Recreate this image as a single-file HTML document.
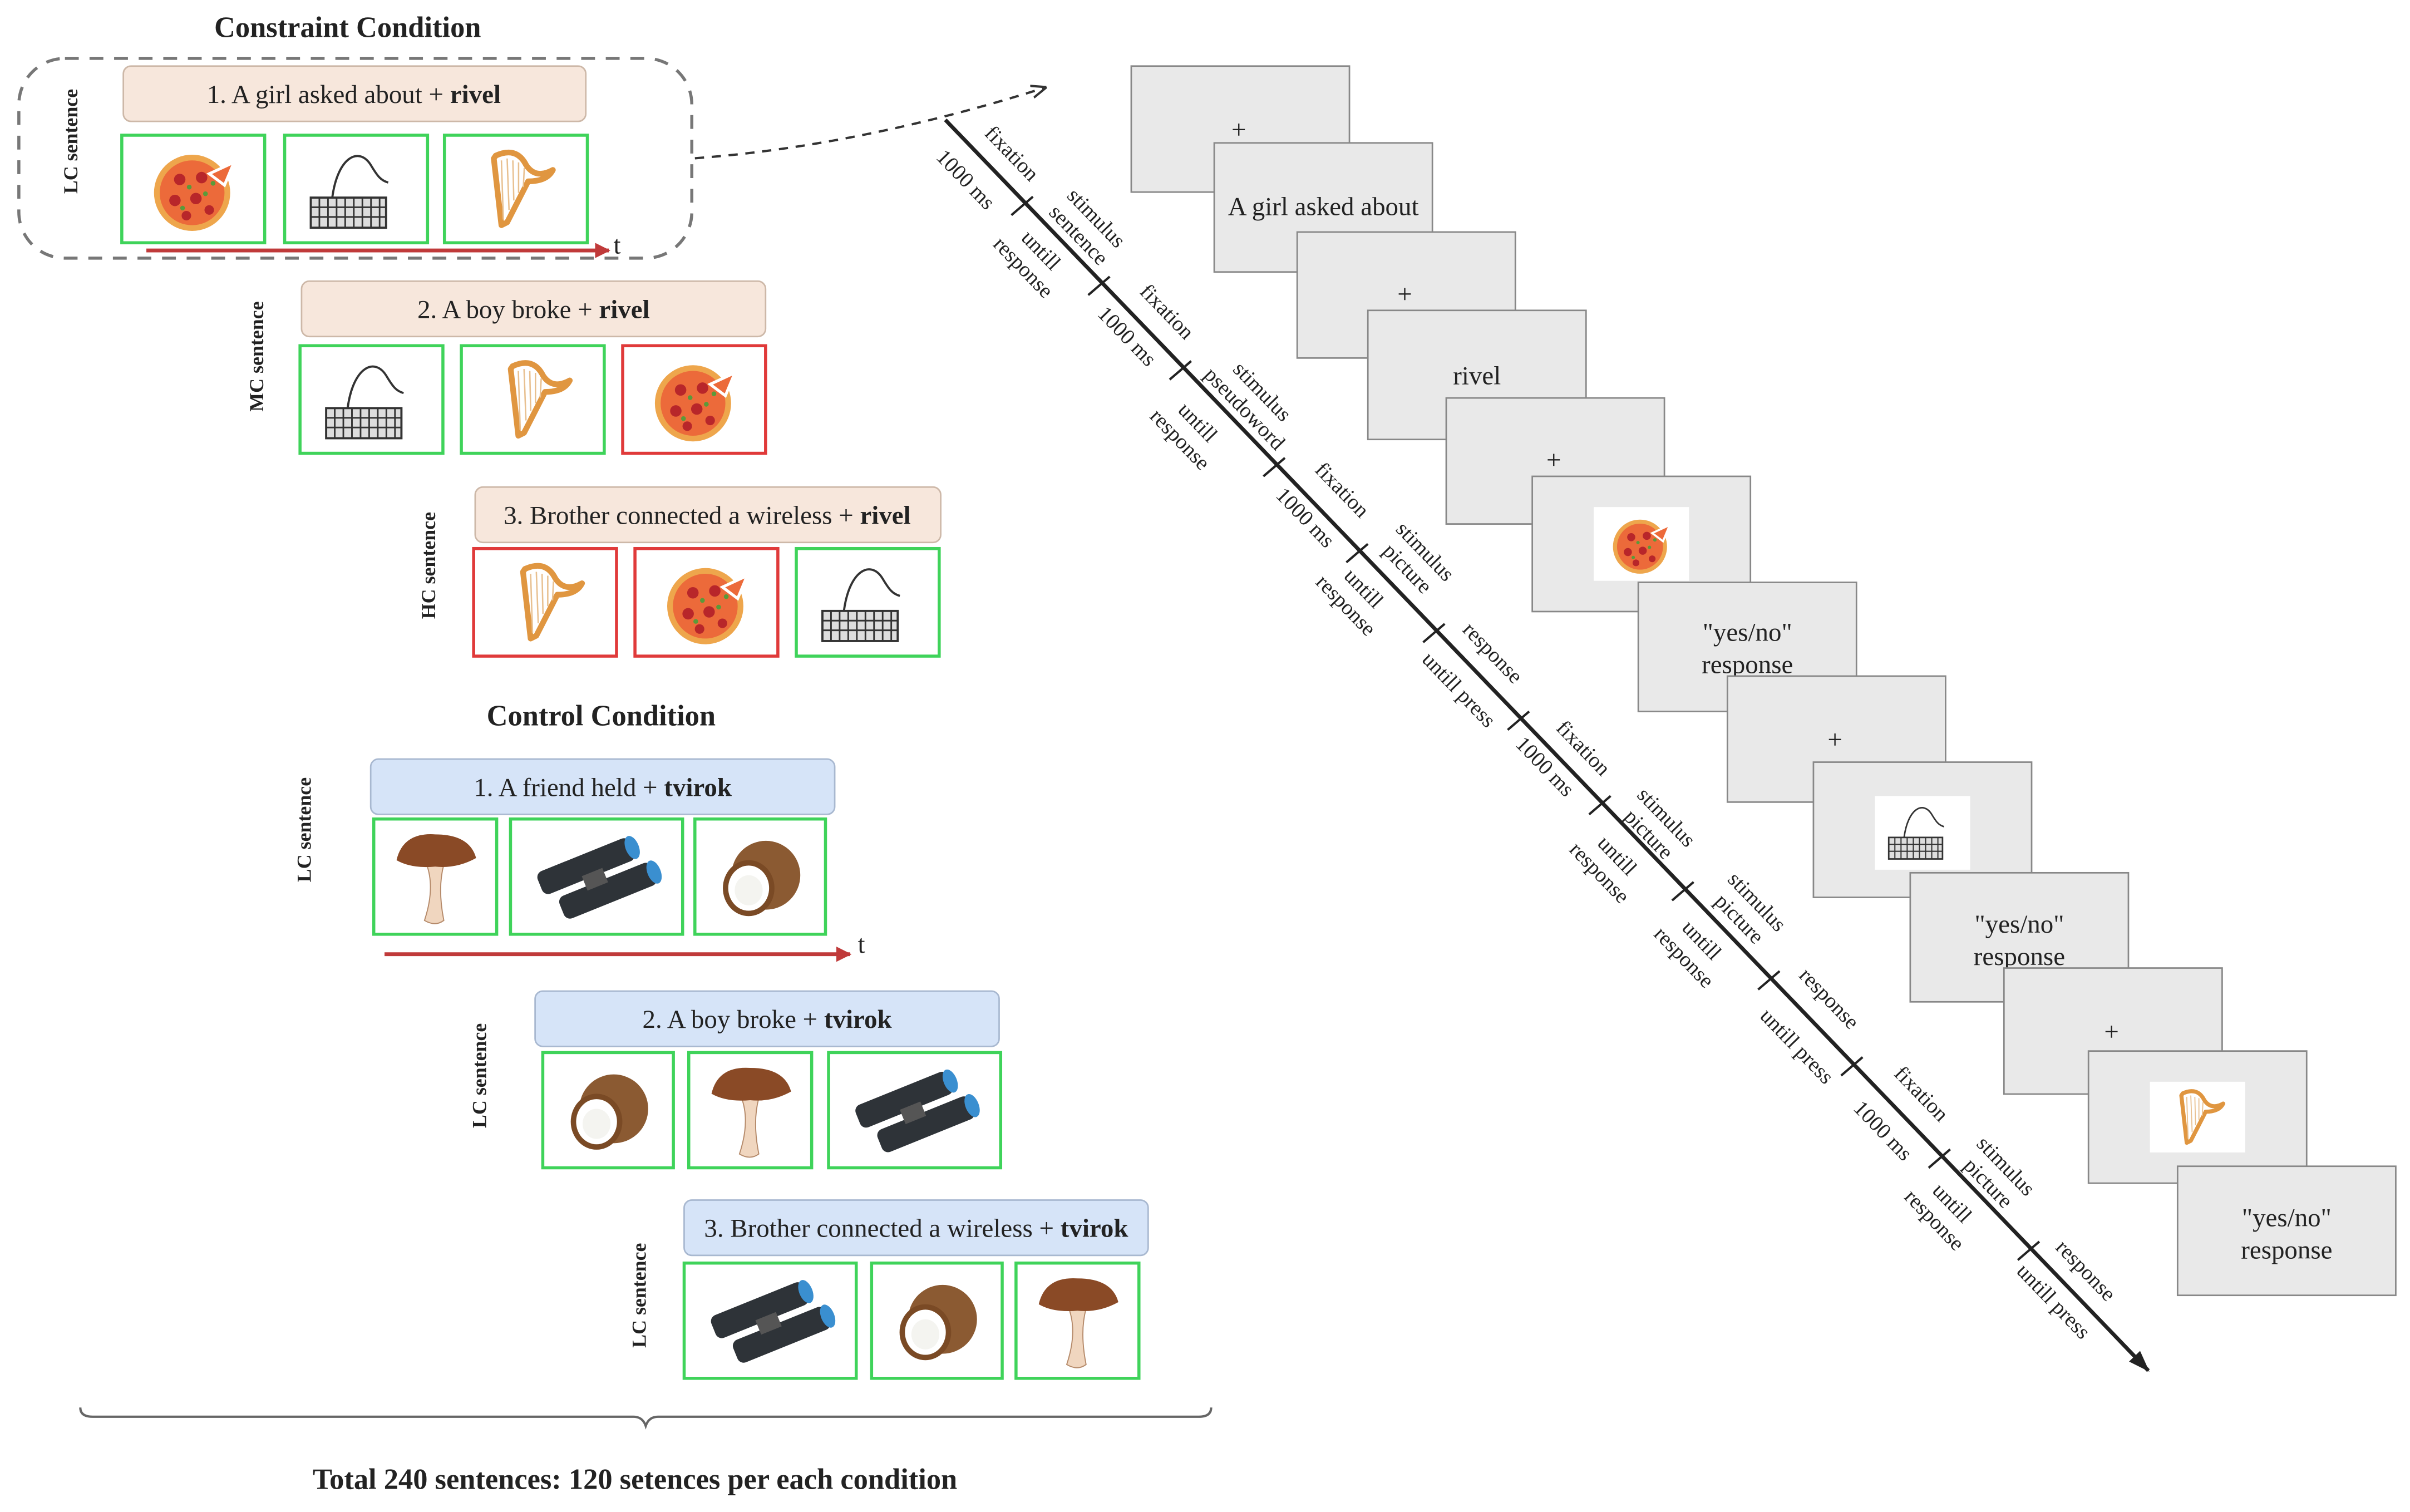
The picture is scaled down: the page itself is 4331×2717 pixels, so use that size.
<!DOCTYPE html>
<html><head><meta charset="utf-8"><style>
html,body{margin:0;padding:0;background:#fff;}
svg{display:block;}
svg text{font-family:"Liberation Serif","Times New Roman",Times,"DejaVu Serif",serif;fill:#222;}
</style></head><body>
<svg width="4331" height="2717" viewBox="0 0 1568 984" xmlns="http://www.w3.org/2000/svg" font-family="'Liberation Serif', 'Times New Roman', Times, 'DejaVu Serif', serif">
<defs>
<symbol id="pizza" viewBox="0 0 100 100">
<circle cx="48" cy="54" r="40" fill="#eea64c"/><circle cx="48" cy="54" r="34" fill="#ec6a3a"/>
<g fill="#b8262a"><circle cx="35" cy="40" r="6"/><circle cx="58" cy="38" r="6"/><circle cx="30" cy="62" r="6"/><circle cx="52" cy="60" r="6"/><circle cx="66" cy="72" r="5"/><circle cx="42" cy="78" r="5"/></g>
<g fill="#5a9a3a"><circle cx="45" cy="48" r="2.5"/><circle cx="62" cy="55" r="2.5"/><circle cx="38" cy="70" r="2.5"/><circle cx="70" cy="44" r="2.5"/></g>
<path d="M66 34 L92 22 L82 46 Z" fill="#ec6a3a" stroke="#fff" stroke-width="3"/>
</symbol>
<symbol id="kbd" viewBox="0 0 100 100">
<path d="M30 58 C35 20 55 10 66 28 C72 38 75 42 82 44" fill="none" stroke="#333" stroke-width="2"/>
<rect x="10" y="58" width="70" height="28" fill="#ddd" stroke="#333" stroke-width="2"/>
<g stroke="#333" stroke-width="1.5"><path d="M10 67 H80 M10 76 H80"/><path d="M18 58V86 M26 58V86 M34 58V86 M42 58V86 M50 58V86 M58 58V86 M66 58V86 M74 58V86"/></g>
</symbol>
<symbol id="harp" viewBox="0 0 100 100">
<path d="M28 15 Q50 5 60 25 Q70 40 88 30 Q82 42 62 42 L40 85 L34 88 L26 18 Z" fill="none" stroke="#e09640" stroke-width="6" stroke-linejoin="round"/>
<g stroke="#e8c090" stroke-width="1.5"><path d="M34 20 L36 82 M40 18 L42 72 M46 20 L47 62 M52 22 L52 54 M58 28 L57 48"/></g>
</symbol>
<symbol id="mush" viewBox="0 0 100 100">
<path d="M42 38 Q50 60 40 90 Q50 96 58 90 Q52 60 58 38 Z" fill="#f0d6bf" stroke="#b58a6a"/>
<path d="M14 34 Q20 8 50 10 Q82 10 88 32 Q70 42 50 40 Q28 42 14 34 Z" fill="#8a4a26"/>
</symbol>
<symbol id="bino" viewBox="0 0 140 100">
<g transform="rotate(-22 70 50)">
<rect x="20" y="26" width="90" height="22" rx="6" fill="#2e3338"/><rect x="30" y="54" width="90" height="22" rx="6" fill="#2e3338"/>
<rect x="58" y="44" width="20" height="14" fill="#555"/>
<ellipse cx="110" cy="37" rx="6" ry="11" fill="#3a8fd0"/><ellipse cx="120" cy="65" rx="6" ry="11" fill="#3a8fd0"/>
</g>
</symbol>
<symbol id="coco" viewBox="0 0 100 100">
<circle cx="56" cy="48" r="32" fill="#8b5a32"/>
<ellipse cx="40" cy="60" rx="24" ry="26" fill="#7a4a25"/>
<ellipse cx="40" cy="60" rx="19" ry="21" fill="#fff"/>
<ellipse cx="40" cy="62" rx="13" ry="14" fill="#f4f4f0"/>
</symbol>
<marker id="ar" markerWidth="10" markerHeight="10" refX="9" refY="5" orient="auto" markerUnits="userSpaceOnUse"><path d="M0 0 L10 5 L0 10 Z" fill="#c03a3a"/></marker>
<marker id="ab" markerWidth="14" markerHeight="14" refX="13" refY="7" orient="auto" markerUnits="userSpaceOnUse"><path d="M0 2 L14 7 L0 12 Z" fill="#222"/></marker>
<marker id="ad" markerWidth="10" markerHeight="10" refX="9" refY="5" orient="auto" markerUnits="userSpaceOnUse"><path d="M0 1 L10 5 L0 9" fill="none" stroke="#333" stroke-width="1.5"/></marker>
</defs>

<g font-size="17">
<text x="226" y="24" text-anchor="middle" font-weight="bold" font-size="19">Constraint Condition</text>
<rect x="12" y="38" width="438" height="130" rx="30" fill="none" stroke="#777" stroke-width="2" stroke-dasharray="9,7"/>
<path d="M452 103 Q560 95 680 57" fill="none" stroke="#333" stroke-width="1.5" stroke-dasharray="6,5" marker-end="url(#ad)"/>

<text transform="translate(50,92) rotate(-90)" text-anchor="middle" font-size="13" font-weight="bold">LC sentence</text>
<rect x="80" y="43" width="301" height="36" rx="5" fill="#f7e7dc" stroke="#cdb8a8"/>
<text x="230" y="67" text-anchor="middle">1. A girl asked about + <tspan font-weight="bold">rivel</tspan></text>
<rect x="79" y="88" width="93" height="70" fill="#fff" stroke="#3fd35a" stroke-width="2"/><use href="#pizza" x="95" y="92" width="62" height="62"/>
<rect x="185" y="88" width="93" height="70" fill="#fff" stroke="#3fd35a" stroke-width="2"/><use href="#kbd" x="195" y="88" width="70" height="70"/>
<rect x="289" y="88" width="93" height="70" fill="#fff" stroke="#3fd35a" stroke-width="2"/><use href="#harp" x="305" y="90" width="62" height="66"/>
<line x1="95" y1="163" x2="396" y2="163" stroke="#c03a3a" stroke-width="2.5" marker-end="url(#ar)"/>
<text x="399" y="165" font-size="17">t</text>

<text transform="translate(171,232) rotate(-90)" text-anchor="middle" font-size="13" font-weight="bold">MC sentence</text>
<rect x="196" y="183" width="302" height="36" rx="5" fill="#f7e7dc" stroke="#cdb8a8"/>
<text x="347" y="207" text-anchor="middle">2. A boy broke + <tspan font-weight="bold">rivel</tspan></text>
<rect x="195" y="225" width="93" height="70" fill="#fff" stroke="#3fd35a" stroke-width="2"/><use href="#kbd" x="205" y="225" width="70" height="70"/>
<rect x="300" y="225" width="93" height="70" fill="#fff" stroke="#3fd35a" stroke-width="2"/><use href="#harp" x="316" y="227" width="62" height="66"/>
<rect x="405" y="225" width="93" height="70" fill="#fff" stroke="#e03a3a" stroke-width="2"/><use href="#pizza" x="421" y="229" width="62" height="62"/>

<text transform="translate(283,368) rotate(-90)" text-anchor="middle" font-size="13" font-weight="bold">HC sentence</text>
<rect x="309" y="317" width="303" height="36" rx="5" fill="#f7e7dc" stroke="#cdb8a8"/>
<text x="460" y="341" text-anchor="middle">3. Brother connected a wireless + <tspan font-weight="bold">rivel</tspan></text>
<rect x="308" y="357" width="93" height="70" fill="#fff" stroke="#e03a3a" stroke-width="2"/><use href="#harp" x="324" y="359" width="62" height="66"/>
<rect x="413" y="357" width="93" height="70" fill="#fff" stroke="#e03a3a" stroke-width="2"/><use href="#pizza" x="429" y="361" width="62" height="62"/>
<rect x="518" y="357" width="93" height="70" fill="#fff" stroke="#3fd35a" stroke-width="2"/><use href="#kbd" x="528" y="357" width="70" height="70"/>

<text x="391" y="472" text-anchor="middle" font-weight="bold" font-size="19">Control Condition</text>

<text transform="translate(202,540) rotate(-90)" text-anchor="middle" font-size="13" font-weight="bold">LC sentence</text>
<rect x="241" y="494" width="302" height="36" rx="5" fill="#d6e4f8" stroke="#a8b8d0"/>
<text x="392" y="518" text-anchor="middle">1. A friend held + <tspan font-weight="bold">tvirok</tspan></text>
<rect x="243" y="533" width="80" height="75" fill="#fff" stroke="#3fd35a" stroke-width="2"/><use href="#mush" x="248" y="535" width="70" height="72"/>
<rect x="332" y="533" width="112" height="75" fill="#fff" stroke="#3fd35a" stroke-width="2"/><use href="#bino" x="336" y="535" width="104" height="72"/>
<rect x="452" y="533" width="85" height="75" fill="#fff" stroke="#3fd35a" stroke-width="2"/><use href="#coco" x="458" y="536" width="72" height="70"/>
<line x1="250" y1="621" x2="553" y2="621" stroke="#c03a3a" stroke-width="2.5" marker-end="url(#ar)"/>
<text x="558" y="620" font-size="17">t</text>

<text transform="translate(316,700) rotate(-90)" text-anchor="middle" font-size="13" font-weight="bold">LC sentence</text>
<rect x="348" y="645" width="302" height="36" rx="5" fill="#d6e4f8" stroke="#a8b8d0"/>
<text x="499" y="669" text-anchor="middle">2. A boy broke + <tspan font-weight="bold">tvirok</tspan></text>
<rect x="353" y="685" width="85" height="75" fill="#fff" stroke="#3fd35a" stroke-width="2"/><use href="#coco" x="359" y="688" width="72" height="70"/>
<rect x="448" y="685" width="80" height="75" fill="#fff" stroke="#3fd35a" stroke-width="2"/><use href="#mush" x="453" y="687" width="70" height="72"/>
<rect x="539" y="685" width="112" height="75" fill="#fff" stroke="#3fd35a" stroke-width="2"/><use href="#bino" x="543" y="687" width="104" height="72"/>

<text transform="translate(420,843) rotate(-90)" text-anchor="middle" font-size="13" font-weight="bold">LC sentence</text>
<rect x="445" y="781" width="302" height="36" rx="5" fill="#d6e4f8" stroke="#a8b8d0"/>
<text x="596" y="805" text-anchor="middle">3. Brother connected a wireless + <tspan font-weight="bold">tvirok</tspan></text>
<rect x="445" y="822" width="112" height="75" fill="#fff" stroke="#3fd35a" stroke-width="2"/><use href="#bino" x="449" y="824" width="104" height="72"/>
<rect x="567" y="822" width="85" height="75" fill="#fff" stroke="#3fd35a" stroke-width="2"/><use href="#coco" x="573" y="825" width="72" height="70"/>
<rect x="661" y="822" width="80" height="75" fill="#fff" stroke="#3fd35a" stroke-width="2"/><use href="#mush" x="666" y="824" width="70" height="72"/>

<path d="M52 916 Q52 922 60 922 L412 922 Q418 922 420 928 Q422 922 428 922 L780 922 Q788 922 788 916" fill="none" stroke="#666" stroke-width="1.5"/>
<text x="413" y="969" text-anchor="middle" font-weight="bold" font-size="19">Total 240 sentences: 120 setences per each condition</text>
</g>

<g font-size="17" text-anchor="middle">
<rect x="736" y="43" width="142" height="82" fill="#e9e9e9" stroke="#888"/><text x="806" y="90">+</text>
<rect x="790" y="93" width="142" height="84" fill="#e9e9e9" stroke="#888"/><text x="861" y="140">A girl asked about</text>
<rect x="844" y="151" width="142" height="82" fill="#e9e9e9" stroke="#888"/><text x="914" y="197">+</text>
<rect x="890" y="202" width="142" height="84" fill="#e9e9e9" stroke="#888"/><text x="961" y="250">rivel</text>
<rect x="941" y="259" width="142" height="82" fill="#e9e9e9" stroke="#888"/><text x="1011" y="305">+</text>
<rect x="997" y="310" width="142" height="88" fill="#e9e9e9" stroke="#888"/><rect x="1037" y="330" width="62" height="48" fill="#fff"/><use href="#pizza" x="1046" y="332" width="44" height="44"/>
<rect x="1066" y="379" width="142" height="84" fill="#e9e9e9" stroke="#888"/><text x="1137" y="417">"yes/no"</text><text x="1137" y="438">response</text>
<rect x="1124" y="440" width="142" height="82" fill="#e9e9e9" stroke="#888"/><text x="1194" y="487">+</text>
<rect x="1180" y="496" width="142" height="88" fill="#e9e9e9" stroke="#888"/><rect x="1220" y="518" width="62" height="48" fill="#fff"/><use href="#kbd" x="1224" y="516" width="50" height="50"/>
<rect x="1243" y="568" width="142" height="84" fill="#e9e9e9" stroke="#888"/><text x="1314" y="607">"yes/no"</text><text x="1314" y="628">response</text>
<rect x="1304" y="630" width="142" height="82" fill="#e9e9e9" stroke="#888"/><text x="1374" y="677">+</text>
<rect x="1359" y="684" width="142" height="86" fill="#e9e9e9" stroke="#888"/><rect x="1399" y="704" width="62" height="46" fill="#fff"/><use href="#harp" x="1408" y="705" width="44" height="44"/>
<rect x="1417" y="759" width="142" height="84" fill="#e9e9e9" stroke="#888"/><text x="1488" y="798">"yes/no"</text><text x="1488" y="819">response</text>
</g>

<line x1="615" y1="78" x2="1398" y2="892" stroke="#222" stroke-width="2.5" marker-end="url(#ab)"/>
<g stroke="#222" stroke-width="1.5">
<path d="M672 128 L658 140 M722 180 L708 192 M775 235 L761 247 M836 298 L822 310 M890 354 L876 366 M940 406 L926 418 M995 463 L981 475 M1048 518 L1034 530 M1102 574 L1088 586 M1158 632 L1144 644 M1212 688 L1198 700 M1269 748 L1255 760 M1327 808 L1313 820"/>
</g>
<g font-size="14" text-anchor="middle">
<text transform="translate(655,103) rotate(46)">fixation</text>
<text transform="translate(710,145) rotate(46)"><tspan x="0" y="0">stimulus</tspan><tspan x="0" y="16">sentence</tspan></text>
<text transform="translate(756,206) rotate(46)">fixation</text>
<text transform="translate(818,258) rotate(46)"><tspan x="0" y="0">stimulus</tspan><tspan x="0" y="16">pseudoword</tspan></text>
<text transform="translate(870,322) rotate(46)">fixation</text>
<text transform="translate(924,362) rotate(46)"><tspan x="0" y="0">stimulus</tspan><tspan x="0" y="16">picture</tspan></text>
<text transform="translate(968,428) rotate(46)">response</text>
<text transform="translate(1027,490) rotate(46)">fixation</text>
<text transform="translate(1081,535) rotate(46)"><tspan x="0" y="0">stimulus</tspan><tspan x="0" y="16">picture</tspan></text>
<text transform="translate(1140,590) rotate(46)"><tspan x="0" y="0">stimulus</tspan><tspan x="0" y="16">picture</tspan></text>
<text transform="translate(1187,653) rotate(46)">response</text>
<text transform="translate(1247,715) rotate(46)">fixation</text>
<text transform="translate(1302,762) rotate(46)"><tspan x="0" y="0">stimulus</tspan><tspan x="0" y="16">picture</tspan></text>
<text transform="translate(1354,830) rotate(46)">response</text>

<text transform="translate(625,120) rotate(46)">1000 ms</text>
<text transform="translate(674,166) rotate(46)"><tspan x="0" y="0">untill</tspan><tspan x="0" y="16">response</tspan></text>
<text transform="translate(730,222) rotate(46)">1000 ms</text>
<text transform="translate(776,278) rotate(46)"><tspan x="0" y="0">untill</tspan><tspan x="0" y="16">response</tspan></text>
<text transform="translate(846,340) rotate(46)">1000 ms</text>
<text transform="translate(884,386) rotate(46)"><tspan x="0" y="0">untill</tspan><tspan x="0" y="16">response</tspan></text>
<text transform="translate(946,452) rotate(46)">untill press</text>
<text transform="translate(1002,502) rotate(46)">1000 ms</text>
<text transform="translate(1049,560) rotate(46)"><tspan x="0" y="0">untill</tspan><tspan x="0" y="16">response</tspan></text>
<text transform="translate(1104,615) rotate(46)"><tspan x="0" y="0">untill</tspan><tspan x="0" y="16">response</tspan></text>
<text transform="translate(1166,684) rotate(46)">untill press</text>
<text transform="translate(1222,739) rotate(46)">1000 ms</text>
<text transform="translate(1267,786) rotate(46)"><tspan x="0" y="0">untill</tspan><tspan x="0" y="16">response</tspan></text>
<text transform="translate(1333,850) rotate(46)">untill press</text>
</g>
</svg>
</body></html>
